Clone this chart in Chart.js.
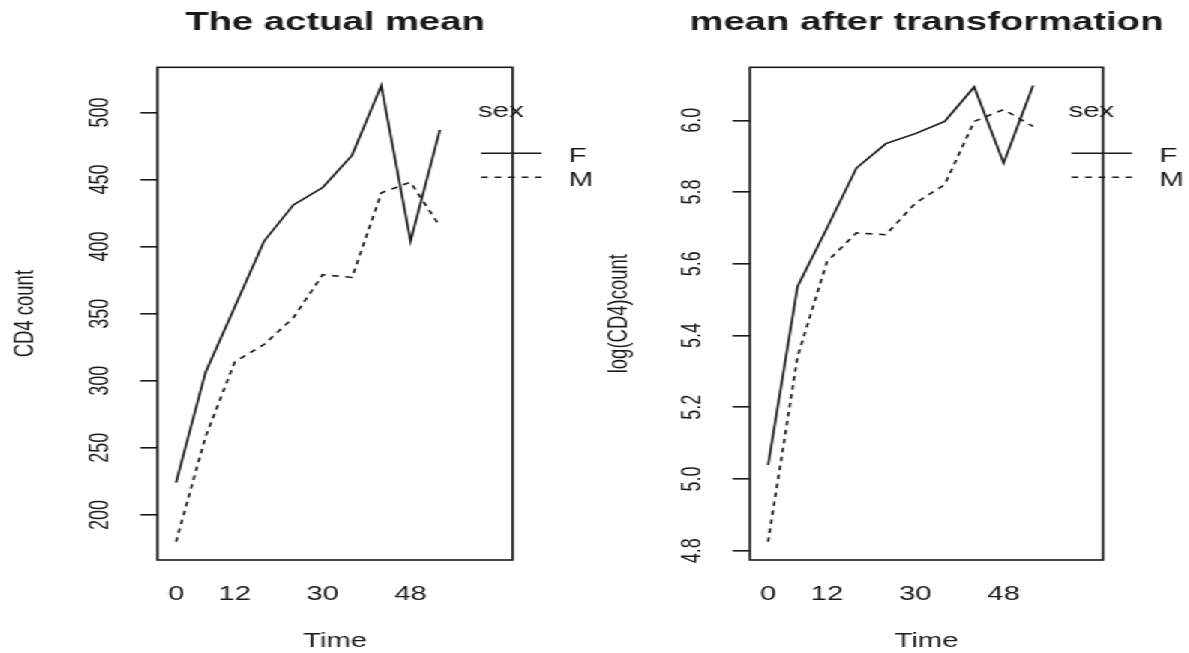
<!DOCTYPE html>
<html lang="en">
<head>
  <meta charset="utf-8" />
  <title>CD4 count by sex over time</title>
  <script src="https://cdn.jsdelivr.net/npm/chart.js@4.4.0/dist/chart.umd.min.js"></script>
  <style>
    * {
      margin: 0;
      padding: 0;
      box-sizing: border-box;
    }

    body {
      width: 1189px;
      height: 653px;
      overflow: hidden;
      background: #ffffff;
    }

    /* both panels are laid out narrow, then widened 1.5x */
    .stretch {
      width: 793px;
      height: 653px;
      display: flex;
      transform: scaleX(1.5);
      transform-origin: 0 0;
    }

    .panel {
      position: relative;
      height: 653px;
    }

    #p1 { width: 396px; }
    #p2 { width: 397px; }
  </style>
</head>
<body>
  <div class="stretch">
    <div class="panel" id="p1"><canvas id="rawChart"></canvas></div>
    <div class="panel" id="p2"><canvas id="logChart"></canvas></div>
  </div>

  <script>
    // Time levels (months) and the ones that get a label
    const times = [0, 6, 12, 18, 24, 30, 36, 42, 48, 54];
    const shownTimes = [0, 12, 30, 48];
    const sexLevels = ["F", "M"];

    // Mean CD4 count per time level
    const rawF = [224, 306, 355, 404, 431, 444, 468, 520, 404, 487];
    const rawM = [180, 258, 314, 327, 347, 379, 377, 440, 448, 415];
    const rawTicks = [200, 250, 300, 350, 400, 450, 500];

    // Mean of log(CD4) per time level
    const logF = [5.039, 5.537, 5.700, 5.867, 5.935, 5.963, 5.997, 6.093, 5.881, 6.097];
    const logM = [4.825, 5.341, 5.606, 5.686, 5.681, 5.769, 5.821, 5.997, 6.030, 5.983];
    const logTicks = [4.8, 5.0, 5.2, 5.4, 5.6, 5.8, 6.0];

    const ink = "#1a1a1a";
    const face = '"Liberation Sans", Arial, sans-serif';

    // y limits like base R: data range plus 4% each side
    function paddedRange(a, b) {
      const lo = Math.min(...a, ...b);
      const hi = Math.max(...a, ...b);
      const d = (hi - lo) * 0.04;
      return [lo - d, hi + d];
    }

    // frame, rotated y labels, bold title and the "sex" legend
    const panelDecor = {
      id: "panelDecor",
      afterDraw(chart, args, o) {
        const { ctx, chartArea: a } = chart;
        const ys = chart.scales.y;
        ctx.save();
        ctx.strokeStyle = ink;
        ctx.fillStyle = ink;
        ctx.lineWidth = 1.6;
        ctx.setLineDash([]);
        ctx.strokeRect(a.left, a.top, a.right - a.left, a.bottom - a.top);

        ctx.font = `18px ${face}`;
        ctx.textAlign = "center";
        ctx.textBaseline = "alphabetic";
        ys.ticks.forEach((t) => {
          ctx.save();
          ctx.translate(a.left - 33.4, ys.getPixelForValue(t.value));
          ctx.rotate(-Math.PI / 2);
          ctx.fillText(t.value.toFixed(o.decimals), 0, 0);
          ctx.restore();
        });

        ctx.font = `bold 25.5px ${face}`;
        ctx.fillText(o.title, (a.left + a.right) / 2, 29.5);

        const r = a.right;
        ctx.font = `19.5px ${face}`;
        ctx.textAlign = "left";
        ctx.fillText("sex", r - 23, 116.5);
        sexLevels.forEach((s, k) => {
          const ds = chart.data.datasets[k];
          const y = 153.3 + k * 24;
          ctx.lineWidth = ds.borderWidth;
          ctx.setLineDash(ds.borderDash || []);
          ctx.beginPath();
          ctx.moveTo(r - 21, y);
          ctx.lineTo(r + 19.3, y);
          ctx.stroke();
          ctx.fillText(s, r + 37.5, y + 9);
        });
        ctx.restore();
      },
    };

    function makePanel(id, cfg) {
      const [lo, hi] = paddedRange(cfg.f, cfg.m);
      const series = [cfg.f, cfg.m];
      return new Chart(document.getElementById(id), {
        type: "line",
        data: {
          datasets: sexLevels.map((s, k) => ({
            label: s,
            data: times.map((t, i) => ({ x: i, y: series[k][i] })),
            borderColor: ink,
            borderWidth: 1.6,
            borderDash: k ? [4.5, 4.5] : [],
            pointRadius: 0,
            tension: 0,
            fill: false,
          })),
        },
        options: {
          responsive: true,
          maintainAspectRatio: false,
          animation: false,
          events: [],
          layout: { padding: { top: 67.3, right: cfg.padRight, bottom: 0, left: 0 } },
          plugins: {
            legend: { display: false },
            tooltip: { enabled: false },
            panelDecor: { title: cfg.title, decimals: cfg.decimals },
          },
          scales: {
            x: {
              type: "linear",
              min: cfg.xMin,
              max: cfg.xMax,
              grid: { display: false, drawTicks: false },
              border: { display: false },
              afterBuildTicks: (s) => {
                s.ticks = shownTimes.map((t) => ({ value: times.indexOf(t) }));
              },
              afterFit: (s) => { s.height = 93; },
              ticks: {
                autoSkip: false,
                maxRotation: 0,
                padding: 23.3,
                color: ink,
                font: { family: face, size: 19.5 },
                callback: (v) => times[v],
              },
              title: {
                display: true,
                text: "Time",
                color: ink,
                font: { family: face, size: 19.5 },
                padding: { top: 0, bottom: 0 },
              },
            },
            y: {
              min: lo,
              max: hi,
              afterBuildTicks: (s) => {
                s.ticks = cfg.ticks.map((v) => ({ value: v }));
              },
              afterFit: (s) => { s.width = cfg.left; },
              grid: {
                drawOnChartArea: false,
                drawTicks: true,
                tickLength: 11.5,
                color: ink,
                lineWidth: 1.6,
              },
              border: { display: false },
              ticks: { display: false },
              title: {
                display: true,
                text: cfg.yTitle,
                color: ink,
                font: { family: face, size: 18.5 },
                padding: { top: 5.9, bottom: 0 },
              },
            },
          },
        },
        plugins: [panelDecor],
      });
    }

    makePanel("rawChart", {
      f: rawF, m: rawM, ticks: rawTicks, decimals: 0,
      title: "The actual mean", yTitle: "CD4 count",
      left: 104.9, padRight: 54.2, xMin: -0.634, xMax: 11.48,
    });

    makePanel("logChart", {
      f: logF, m: logM, ticks: logTicks, decimals: 1,
      title: "mean after transformation", yTitle: "log(CD4)count",
      left: 104, padRight: 57.5, xMin: -0.62, xMax: 11.38,
    });
  </script>
</body>
</html>
